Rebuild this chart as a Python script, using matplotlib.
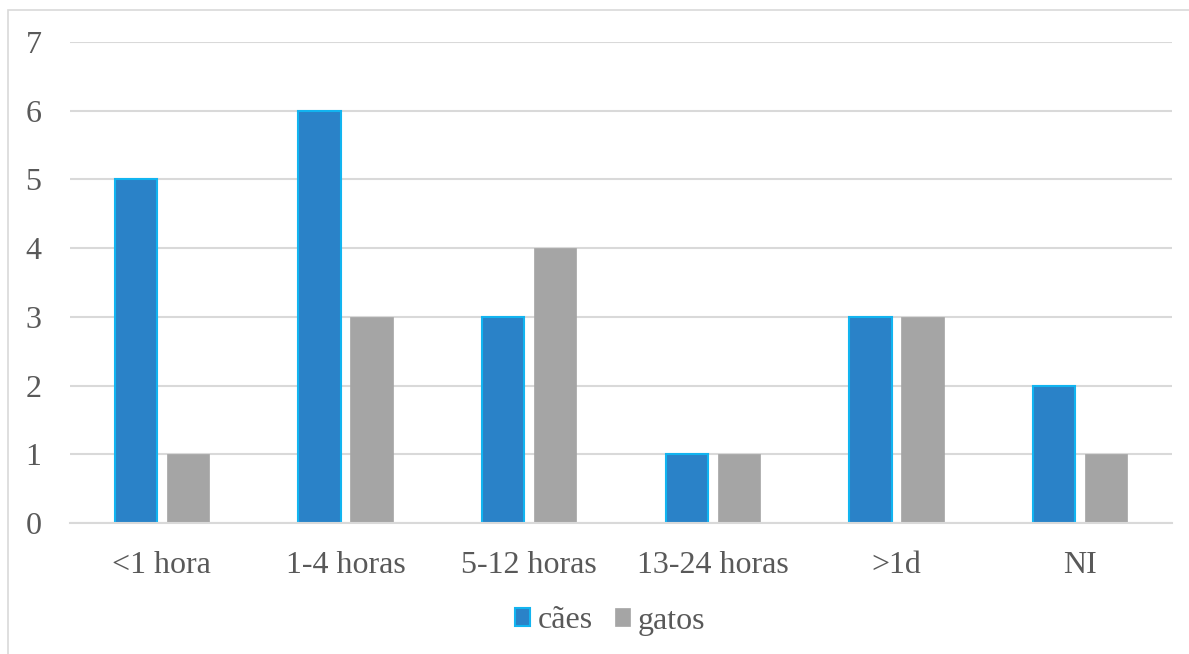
import matplotlib
matplotlib.use("Agg")
import matplotlib.pyplot as plt
import numpy as np
from matplotlib.patches import Rectangle

categories = ["<1 hora", "1-4 horas", "5-12 horas", "13-24 horas", ">1d", "NI"]
caes = [5, 6, 3, 1, 3, 2]
gatos = [1, 3, 4, 1, 3, 1]
yticks = [0, 1, 2, 3, 4, 5, 6, 7]

plt.rcParams["font.family"] = ["Liberation Serif", "DejaVu Serif"]
text_color = "#595959"
grid_color = "#d9d9d9"

fig = plt.figure(figsize=(11.89, 6.54), dpi=100)
# outer chart frame
fig.patches.append(Rectangle((8 / 1189, -0.1), 1.2, (654 - 10) / 654 + 0.1,
                             transform=fig.transFigure, fill=False,
                             edgecolor="#d9d9d9", linewidth=1.2))

ax = fig.add_axes([70 / 1189, 131 / 654, (1172 - 70) / 1189, (523 - 42) / 654])
x = np.arange(len(categories))
w = 0.229
off = 0.1415
ax.bar(x - off, caes, width=w, color="#2a82c8", edgecolor="#12b4f0",
       linewidth=1.5, label="cães", zorder=3)
ax.bar(x + off, gatos, width=w, color="#a5a5a5", edgecolor="#a5a5a5",
       linewidth=0.5, label="gatos", zorder=3)

ax.set_xlim(-0.5, len(categories) - 0.5)
ax.set_ylim(0, 7)
ax.set_yticks(yticks)
ax.set_xticks(x)
ax.set_xticklabels(categories)
ax.yaxis.grid(True, color=grid_color, linewidth=1.5, zorder=0)
for s in ["top", "right", "left"]:
    ax.spines[s].set_visible(False)
ax.spines["bottom"].set_color(grid_color)
ax.spines["bottom"].set_linewidth(1.5)
ax.spines["bottom"].set_zorder(4)
ax.tick_params(axis="both", length=0, labelsize=23, labelcolor=text_color)
ax.tick_params(axis="y", pad=32)
ax.tick_params(axis="x", pad=20)
for lab in ax.get_yticklabels():
    lab.set_horizontalalignment("left")

leg = fig.legend(loc="center", bbox_to_anchor=(610 / 1189, 1 - 621 / 654), ncol=2,
                 frameon=False, fontsize=23, handlelength=0.47, handleheight=0.47,
                 handletextpad=0.25, columnspacing=0.7, labelcolor=text_color)

fig.savefig("out.png", dpi=100, facecolor="white")
